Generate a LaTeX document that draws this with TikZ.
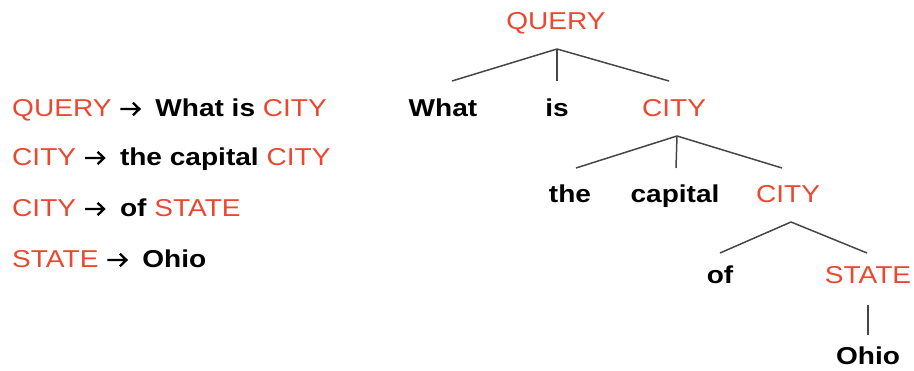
\documentclass[tikz,border=0pt]{standalone}
\usepackage{fontspec}
\setmainfont[FakeStretch=1.15]{Liberation Sans}
\usetikzlibrary{calc}
\definecolor{nt}{RGB}{234,72,48}
\definecolor{branch}{RGB}{70,70,70}
\newcommand{\NT}[1]{\textcolor{nt}{#1}}
\newcommand{\TW}[1]{\textbf{#1}}
% bold rewrite arrow used inside the grammar rules
\newcommand{\RA}{\hspace{0pt}\tikz[baseline=0pt, x=1pt, y=1pt]{%
  \draw[line width=2.3pt, line join=miter] (0,8) -- (19,8) (12.5,1.8) -- (19,8) -- (12.5,14.2);}\hspace{7pt}}
\tikzset{
  txt/.style={font=\fontsize{24.4}{29}\selectfont, inner sep=0pt, anchor=base},
  rule/.style={txt, anchor=base west},
  nonterm/.style={txt, text=nt},
  term/.style={txt, font=\fontsize{24.4}{29}\selectfont\bfseries},
  edge/.style={draw=branch, line width=1.5pt}
}
\begin{document}
\begin{tikzpicture}[x=1pt, y=-1pt]
\useasboundingbox (0,0) rectangle (914,371);

% grammar rules
\node[rule] (r1) at (12,117) {\NT{QUERY} \RA{} \TW{What is} \NT{CITY}};
\node[rule] (r2) at (12,166) {\NT{CITY} \RA{} \TW{the capital} \NT{CITY}};
\node[rule] (r3) at (12,217) {\NT{CITY} \RA{} \TW{of} \NT{STATE}};
\node[rule] (r4) at (12,268) {\NT{STATE} \RA{} \TW{Ohio}};

% parse tree
\node[nonterm] (query) at (556,30) {QUERY};
\node[term] (what) at (443,117) {What};
\node[term] (is) at (557,117) {is};
\node[nonterm] (city1) at (674,117) {CITY};
\node[term] (the) at (570,203) {the};
\node[term] (capital) at (675,203) {capital};
\node[nonterm] (city2) at (788,203) {CITY};
\node[term] (of) at (720,284) {of};
\node[nonterm] (state) at (868,284) {STATE};
\node[term] (ohio) at (868,365) {Ohio};

% branch points below each parent and above each child
\foreach \n/\dx/\d in {query/1/19, city1/3/19, city2/3/19, state/0/21}
  \coordinate (\n-b) at ($(\n.base)+(\dx,\d)$);
\foreach \n/\dx/\d in {what/9/36, is/0/36, city1/-5/36, the/6/35, capital/1/35, city2/-6/35, of/0/31, state/-1/31, ohio/0/30}
  \coordinate (\n-t) at ($(\n.base)+(\dx,-\d)$);

\draw[edge] (query-b) -- (what-t);
\draw[edge] (query-b) -- (is-t);
\draw[edge] (query-b) -- (city1-t);
\draw[edge] (city1-b) -- (the-t);
\draw[edge] (city1-b) -- (capital-t);
\draw[edge] (city1-b) -- (city2-t);
\draw[edge] (city2-b) -- (of-t);
\draw[edge] (city2-b) -- (state-t);
\draw[edge] (state-b) -- (ohio-t);
\end{tikzpicture}
\end{document}
